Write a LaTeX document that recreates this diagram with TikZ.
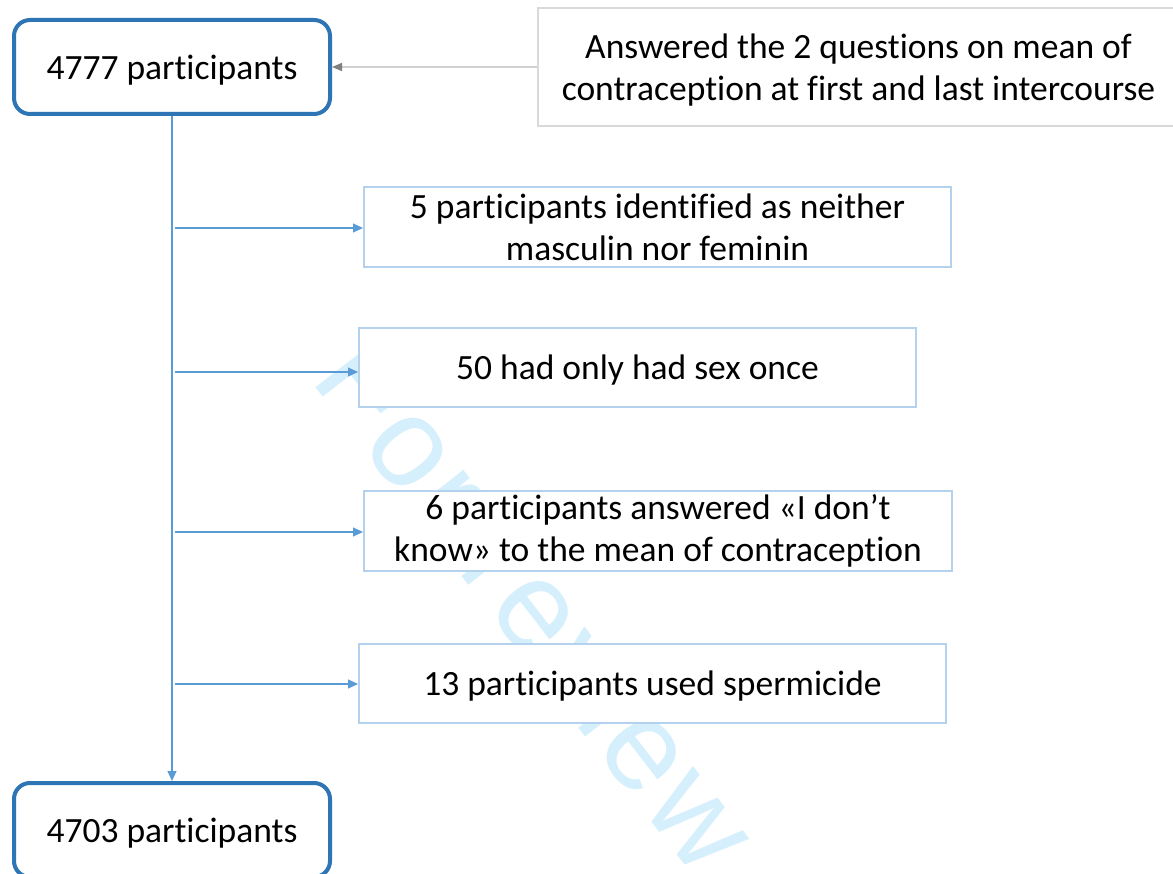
\documentclass[tikz,border=0pt]{standalone}
\usepackage{fontspec}
\setmainfont{Carlito}[Ligatures=NoCommon]
\newfontfamily\wmfont{Liberation Sans}[LetterSpace=4]
\usetikzlibrary{arrows.meta}
\definecolor{mainblue}{HTML}{2E75B6}
\definecolor{flowblue}{HTML}{5B9BD5}
\definecolor{boxblue}{HTML}{B4D2EE}
\definecolor{srcgray}{HTML}{D9D9D9}
\definecolor{linegray}{HTML}{D0D0D0}
\definecolor{tipgray}{HTML}{808080}
\definecolor{wmcyan}{HTML}{D5F0FC}
\tikzset{
  boxtext/.style={font=\fontsize{35.5}{42}\selectfont, align=center, text=black},
  mainbox/.style={boxtext, draw=mainblue, line width=4pt, rounded corners=16pt, fill=white,
    minimum width=316pt, minimum height=94pt, inner sep=0pt, text depth=0pt},
  exclbox/.style={boxtext, draw=boxblue, line width=2pt, fill=white, inner sep=0pt,
    minimum height=80pt},
  srcbox/.style={boxtext, draw=srcgray, line width=2pt, fill=white, inner sep=0pt,
    minimum width=641pt, minimum height=118pt, text depth=0pt},
  flow/.style={draw=flowblue, line width=1.2pt, -{Triangle[length=10pt,width=9pt]}},
  grayflow/.style={draw=linegray, line width=1.5pt, -{Triangle[length=10pt,width=8pt,color=tipgray]}},
  watermark/.style={font=\wmfont\fontsize{127}{130}\selectfont, text=wmcyan, inner sep=0pt}
}
\begin{document}
\begin{tikzpicture}[x=1pt,y=-1pt]
\clip (0,0) rectangle (1173,874);
\fill[white] (0,0) rectangle (1173,874);
% watermark
\node[watermark, rotate=-52.3, anchor=base west] (wm) at (309,379) {For review only};
% boxes
\node[mainbox] (b1) at (172,67) {4777 participants};
\node[srcbox] (src) at (858.5,67) {Answered the 2 questions on mean of\\contraception at first and last intercourse};
\node[exclbox, minimum width=587pt] (e1) at (657.5,227) {5 participants identified as neither\\masculin nor feminin};
\node[exclbox, minimum width=557pt, minimum height=79pt, text depth=0pt] (e2) at (637.5,367.5) {50 had only had sex once};
\node[exclbox, minimum width=588pt] (e3) at (658,531) {6 participants answered «I don’t\\know» to the mean of contraception};
\node[exclbox, minimum width=587pt, minimum height=79pt, text depth=0pt] (e4) at (652.5,683.5) {13 participants used spermicide};
\node[mainbox] (b2) at (172,830) {4703 participants};
% connectors
\draw[grayflow] (src.west) -- (b1.east);
\draw[flow] (b1.south) -- (b2.north);
\coordinate (j1) at (175,228);
\coordinate (j2) at (175,372);
\coordinate (j3) at (175,532);
\coordinate (j4) at (175,684);
\draw[flow] (j1) -- (j1 -| e1.west);
\draw[flow] (j2) -- (j2 -| e2.west);
\draw[flow] (j3) -- (j3 -| e3.west);
\draw[flow] (j4) -- (j4 -| e4.west);
\end{tikzpicture}
\end{document}
